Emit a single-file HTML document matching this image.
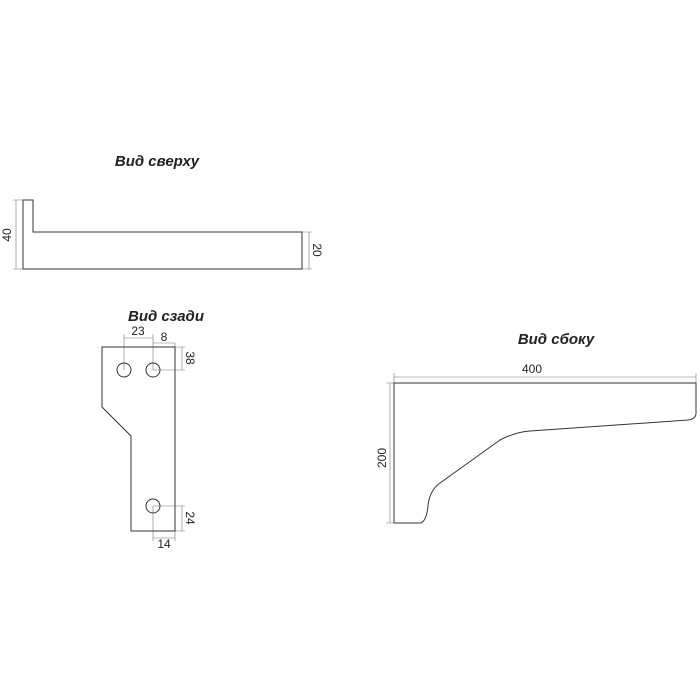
<!DOCTYPE html>
<html><head><meta charset="utf-8"><style>
html,body{margin:0;padding:0;background:#fff;width:700px;height:700px;overflow:hidden}
</style></head><body>
<svg width="700" height="700" viewBox="0 0 700 700" xmlns="http://www.w3.org/2000/svg">
<g font-family="Liberation Sans, sans-serif" fill="#222">
<text x="157" y="166" font-size="15" font-weight="bold" font-style="italic" text-anchor="middle">Вид сверху</text>
<text x="166" y="321" font-size="15" font-weight="bold" font-style="italic" text-anchor="middle">Вид сзади</text>
<text x="556" y="344" font-size="15" font-weight="bold" font-style="italic" text-anchor="middle">Вид сбоку</text>
</g>
<g fill="none" stroke="#333" stroke-width="1">
<path d="M23 200 H33 V232 H302 V269 H23 Z"/>
</g>
<g fill="none" stroke="#777" stroke-width="0.6">
<path d="M13 200 H23 M13 269 H23 M16 200 V269"/>
<path d="M302 232 H312 M302 269 H312 M309 232 V269"/>
<path d="M124 370 V334 M153 370 V334 M124 338 H153 M153 343 H175 M175 343 V347"/>
<path d="M153 370 H185 M175 347 H185 M182 347 V370"/>
<path d="M153 506 H185 M175 531 H185 M182 506 V531"/>
<path d="M153 506 V541 M175 531 V541 M153 538 H175"/>
<path d="M394 377 H696 M394 373 V383 M696 373 V383"/>
<path d="M386 383 H394 M386 523 H394 M390 383 V523"/>
</g>
<g fill="none" stroke="#333" stroke-width="1">
<path d="M102 347 H175 V531 H131 V436 L102 407 Z"/>
<circle cx="124" cy="370" r="7"/>
<circle cx="153" cy="370" r="7"/>
<circle cx="153" cy="506" r="7"/>
<path d="M394 383 H696 V413 Q696 419 688 420 L530 431 Q515 432 500 440 L440 483 Q430 490 428 505 Q427 520 421 523 H394 Z"/>
</g>
<g font-family="Liberation Sans, sans-serif" font-size="12" fill="#222">
<text x="138" y="335" text-anchor="middle">23</text>
<text x="164" y="341" text-anchor="middle">8</text>
<text x="164" y="548" text-anchor="middle">14</text>
<text x="532" y="373" text-anchor="middle">400</text>
<text transform="translate(11,235) rotate(-90)" text-anchor="middle">40</text>
<text transform="translate(313,250) rotate(90)" text-anchor="middle">20</text>
<text transform="translate(186,358) rotate(90)" text-anchor="middle">38</text>
<text transform="translate(186,518) rotate(90)" text-anchor="middle">24</text>
<text transform="translate(386,458) rotate(-90)" text-anchor="middle">200</text>
</g>
</svg>
</body></html>
